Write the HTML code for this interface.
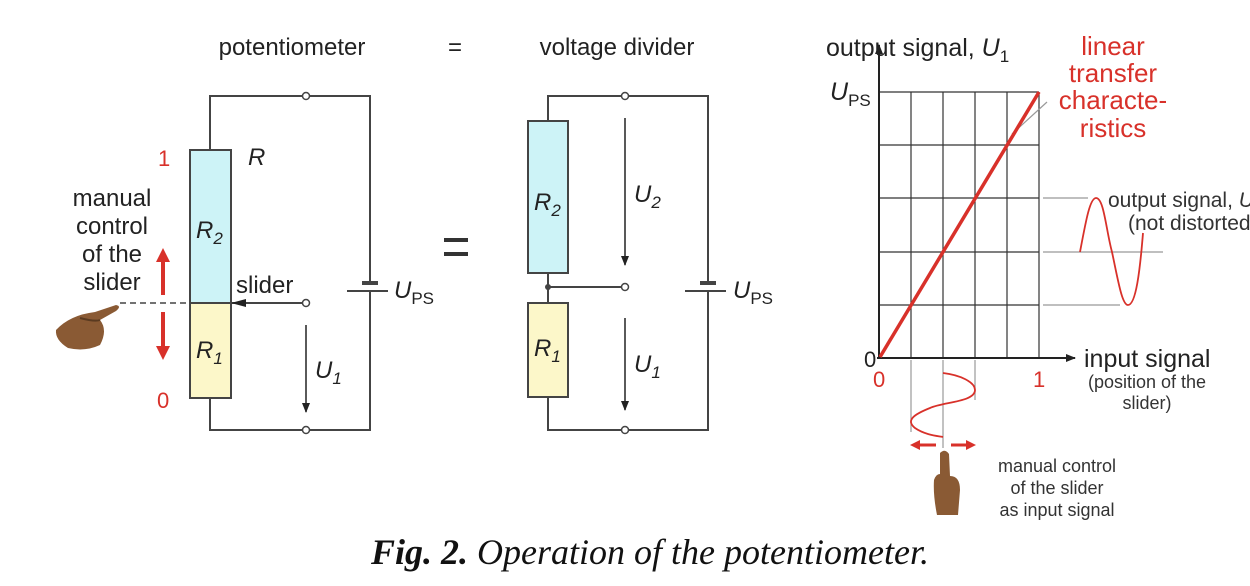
<!DOCTYPE html>
<html><head><meta charset="utf-8"><style>
html,body{margin:0;padding:0;background:#fff;}
svg{display:block;}
text{font-family:"Liberation Sans",sans-serif;}
</style></head><body>
<svg width="1250" height="586" viewBox="0 0 1250 586" xmlns="http://www.w3.org/2000/svg">
<defs>
<marker id="ah" markerWidth="10" markerHeight="10" refX="9" refY="5" orient="auto" markerUnits="userSpaceOnUse"><path d="M0,1 L10,5 L0,9 z" fill="#222"/></marker>
</defs>
<g font-size="24" fill="#222">
<text x="292" y="55" text-anchor="middle">potentiometer</text>
<text x="455" y="55" text-anchor="middle">=</text>
<text x="617" y="55" text-anchor="middle">voltage divider</text>
</g>
<!-- left circuit -->
<g stroke="#444" stroke-width="2" fill="none">
<path d="M210,150 V96 H370 V283 M370,291 V430 H210 V398"/>
<line x1="347" y1="291" x2="388" y2="291"/>
<line x1="362" y1="283" x2="378" y2="283" stroke-width="4"/>
<line x1="231" y1="303" x2="302" y2="303"/>
</g>
<rect x="190" y="150" width="41" height="153" fill="#cdf3f7" stroke="#444" stroke-width="2"/>
<rect x="190" y="303" width="41" height="95" fill="#fcf7c9" stroke="#444" stroke-width="2"/>
<path d="M231,303 L246,299 L246,307 z" fill="#222"/>
<line x1="120" y1="303" x2="231" y2="303" stroke="#444" stroke-width="1.5" stroke-dasharray="6,4"/>
<g fill="#fff" stroke="#444" stroke-width="1.5">
<circle cx="306" cy="96" r="3.5"/><circle cx="306" cy="303" r="3.5"/><circle cx="306" cy="430" r="3.5"/>
</g>
<line x1="306" y1="325" x2="306" y2="412" stroke="#222" stroke-width="1.5" marker-end="url(#ah)"/>
<g fill="#222" font-size="24">
<text x="248" y="165" font-style="italic">R</text>
<text x="196" y="238" font-style="italic">R<tspan font-size="17" dy="6">2</tspan></text>
<text x="196" y="358" font-style="italic">R<tspan font-size="17" dy="6">1</tspan></text>
<text x="236" y="293">slider</text>
<text x="315" y="378" font-style="italic">U<tspan font-size="17" dy="6">1</tspan></text>
<text x="394" y="298" font-style="italic">U<tspan font-size="17" dy="6" font-style="normal">PS</tspan></text>
<text x="112" y="206" text-anchor="middle">manual</text>
<text x="112" y="234" text-anchor="middle">control</text>
<text x="112" y="262" text-anchor="middle">of the</text>
<text x="112" y="290" text-anchor="middle">slider</text>
</g>
<text x="158" y="166" fill="#d8312a" font-size="22">1</text>
<text x="157" y="408" fill="#d8312a" font-size="22">0</text>
<g stroke="#d8312a" stroke-width="4">
<line x1="163" y1="295" x2="163" y2="258"/><line x1="163" y1="312" x2="163" y2="350"/>
</g>
<path d="M156,262 L163,248 L170,262 z M156,346 L163,360 L170,346 z" fill="#d8312a"/>
<!-- left hand -->
<g fill="#8a5a34">
<path d="M56,330 Q70,315 95,312 L116,305 Q122,306 116,311 L100,320 Q108,330 100,345 Q85,352 68,348 Q55,340 56,330 z"/>
<path d="M80,318 Q95,322 100,320" stroke="#5a3a20" stroke-width="2" fill="none"/>
</g>
<!-- big equals -->
<g stroke="#333" stroke-width="4"><line x1="444" y1="240" x2="468" y2="240"/><line x1="444" y1="254" x2="468" y2="254"/></g>
<!-- middle circuit -->
<g stroke="#444" stroke-width="2" fill="none">
<path d="M548,121 V96 H708 V283 M708,291 V430 H548 V397 M548,273 V303 M548,287 H621"/>
<line x1="685" y1="291" x2="726" y2="291"/>
<line x1="700" y1="283" x2="716" y2="283" stroke-width="4"/>
</g>
<rect x="528" y="121" width="40" height="152" fill="#cdf3f7" stroke="#444" stroke-width="2"/>
<rect x="528" y="303" width="40" height="94" fill="#fcf7c9" stroke="#444" stroke-width="2"/>
<circle cx="548" cy="287" r="3" fill="#444"/>
<g fill="#fff" stroke="#444" stroke-width="1.5">
<circle cx="625" cy="96" r="3.5"/><circle cx="625" cy="287" r="3.5"/><circle cx="625" cy="430" r="3.5"/>
</g>
<line x1="625" y1="118" x2="625" y2="265" stroke="#222" stroke-width="1.5" marker-end="url(#ah)"/>
<line x1="625" y1="318" x2="625" y2="410" stroke="#222" stroke-width="1.5" marker-end="url(#ah)"/>
<g fill="#222" font-size="24">
<text x="534" y="210" font-style="italic">R<tspan font-size="17" dy="6">2</tspan></text>
<text x="534" y="356" font-style="italic">R<tspan font-size="17" dy="6">1</tspan></text>
<text x="634" y="202" font-style="italic">U<tspan font-size="17" dy="6">2</tspan></text>
<text x="634" y="372" font-style="italic">U<tspan font-size="17" dy="6">1</tspan></text>
<text x="733" y="298" font-style="italic">U<tspan font-size="17" dy="6" font-style="normal">PS</tspan></text>
</g>
<!-- graph -->
<g stroke="#333" stroke-width="1.2">
<line x1="879" y1="92" x2="1039" y2="92"/><line x1="879" y1="145" x2="1039" y2="145"/>
<line x1="879" y1="198" x2="1039" y2="198"/><line x1="879" y1="252" x2="1039" y2="252"/>
<line x1="879" y1="305" x2="1039" y2="305"/>
<line x1="911" y1="92" x2="911" y2="358"/><line x1="943" y1="92" x2="943" y2="358"/>
<line x1="975" y1="92" x2="975" y2="358"/><line x1="1007" y1="92" x2="1007" y2="358"/>
<line x1="1039" y1="92" x2="1039" y2="358"/>
</g>
<g stroke="#999" stroke-width="1.2">
<line x1="1043" y1="198" x2="1088" y2="198"/><line x1="1043" y1="252" x2="1163" y2="252"/>
<line x1="1043" y1="305" x2="1120" y2="305"/>
<line x1="911" y1="360" x2="911" y2="432"/><line x1="975" y1="360" x2="975" y2="400"/>
<line x1="943" y1="360" x2="943" y2="448"/>
<line x1="1012" y1="134" x2="1047" y2="102"/>
</g>
<line x1="879" y1="358" x2="879" y2="45" stroke="#222" stroke-width="2" marker-end="url(#ah)"/>
<line x1="877" y1="358" x2="1075" y2="358" stroke="#222" stroke-width="2" marker-end="url(#ah)"/>
<line x1="880" y1="357" x2="1039" y2="92" stroke="#d8312a" stroke-width="3.5"/>
<path d="M1080,252 C1086,220 1090,198 1096,198 C1104,198 1106,230 1112,252 C1118,280 1122,305 1128,305 C1136,305 1140,270 1143,233" stroke="#d8312a" stroke-width="1.8" fill="none"/>
<path d="M943,373 C960,375 975,382 975,390 C975,402 943,402 930,408 C915,414 905,420 915,428 C925,435 938,436 943,437" stroke="#d8312a" stroke-width="1.8" fill="none"/>
<g stroke="#d8312a" stroke-width="3">
<line x1="918" y1="445" x2="936" y2="445"/><line x1="951" y1="445" x2="968" y2="445"/>
</g>
<path d="M920,440 L910,445 L920,450 z M966,440 L976,445 L966,450 z" fill="#d8312a"/>
<!-- bottom hand -->
<path d="M940,453 Q945,448 949,454 L950,476 Q960,476 960,490 L958,515 L937,515 Q933,495 934,480 Q936,474 940,474 z" fill="#8a5a34"/>
<g fill="#222" font-size="25">
<text x="826" y="56">output signal, <tspan font-style="italic">U</tspan><tspan font-size="17" dy="6">1</tspan></text>
<text x="830" y="100" font-style="italic">U<tspan font-size="17" dy="6" font-style="normal">PS</tspan></text>
<text x="864" y="367" font-size="22">0</text>
<text x="1084" y="367">input signal</text>
</g>
<g fill="#d8312a" font-size="22">
<text x="873" y="387">0</text><text x="1033" y="387">1</text>
</g>
<g fill="#d8312a" font-size="26" text-anchor="middle">
<text x="1113" y="55">linear</text><text x="1113" y="82">transfer</text>
<text x="1113" y="109">characte-</text><text x="1113" y="137">ristics</text>
</g>
<g fill="#333" font-size="18" text-anchor="middle">
<text x="1147" y="388">(position of the</text><text x="1147" y="409">slider)</text>
<text x="1057" y="472">manual control</text><text x="1057" y="494">of the slider</text><text x="1057" y="516">as input signal</text>
</g>
<g fill="#333" font-size="21">
<text x="1108" y="207">output signal, <tspan font-style="italic">U</tspan></text>
<text x="1128" y="230">(not distorted)</text>
</g>
<text x="650" y="564" text-anchor="middle" font-style="italic" font-size="36" fill="#111" style="font-family:'Liberation Serif',serif"><tspan font-weight="bold">Fig. 2.</tspan> Operation of the potentiometer.</text>
</svg>
</body></html>
